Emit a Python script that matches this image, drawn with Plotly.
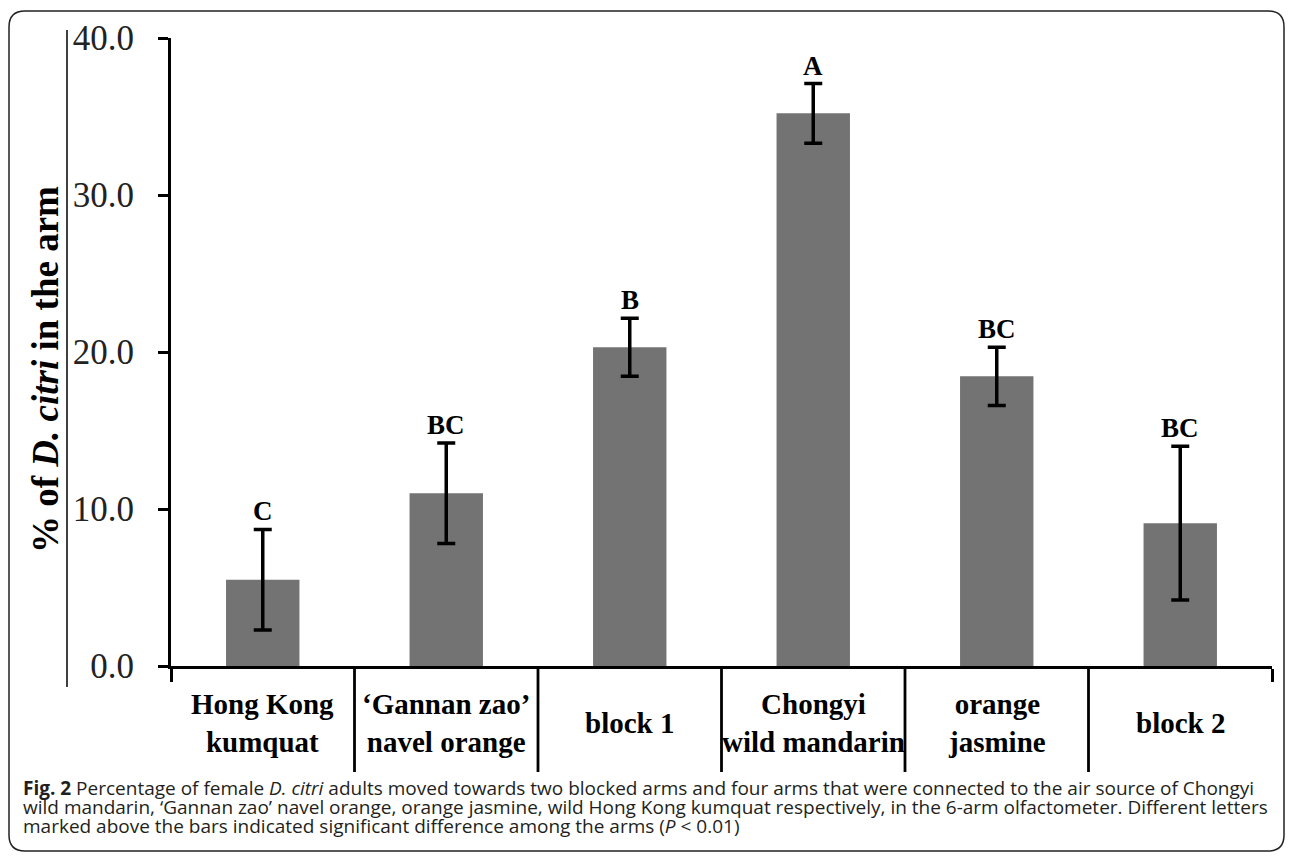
import plotly.graph_objects as go

# ---- data ----
categories = ["Hong Kong<br>kumquat", "\u2018Gannan zao\u2019<br>navel orange", "block 1",
              "Chongyi<br>wild mandarin", "orange<br>jasmine", "block 2"]
values = [5.5, 11.0, 20.3, 35.2, 18.45, 9.1]
errors = [3.2, 3.2, 1.85, 1.9, 1.85, 4.9]
letters = ["C", "BC", "B", "A", "BC", "BC"]
y_ticks = [0, 10, 20, 30, 40]
caption_lines = [
    "<b>Fig. 2</b> Percentage of female <i>D. citri</i> adults moved towards two blocked arms and four arms that were connected to the air source of Chongyi",
    "wild mandarin, \u2018Gannan zao\u2019 navel orange, orange jasmine, wild Hong Kong kumquat respectively, in the 6-arm olfactometer. Different letters",
    "marked above the bars indicated significant difference among the arms (<i>P</i> &lt; 0.01)",
]

OFF = 8                      # page body margin of the html
W, H = 1293 - 2 * OFF, 860 - 2 * OFF
L, R, T, B = 171, 1272, 38, 666  # plot area in page pixels

def px(x):
    return (x - L) / (R - L)

def py(y):
    return (B - y) / (B - T)

SERIF = "Liberation Serif, Times New Roman, serif"
idx = list(range(len(categories)))

fig = go.Figure()
fig.add_trace(go.Bar(
    x=idx, y=values, width=0.4,
    marker=dict(color="#737373", line=dict(width=0)),
    error_y=dict(type="data", array=errors, visible=True, color="black",
                 thickness=3.5, width=9),
    hoverinfo="skip",
))

shapes = []
for b in [i + 0.5 for i in idx[:-1]]:
    shapes.append(dict(type="line", xref="x", yref="paper", x0=b, x1=b,
                       y0=0, y1=py(772), line=dict(color="black", width=2.8)))
shapes.append(dict(type="line", xref="paper", yref="paper", x0=px(67), x1=px(67),
                   y0=py(30), y1=py(687), line=dict(color="black", width=1.5)))
x0, x1, y0, y1 = px(9), px(1284), py(851), py(11)
rx, ry = 16 / (R - L), 16 / (B - T)
path = (f"M {x0+rx},{y1} L {x1-rx},{y1} Q {x1},{y1} {x1},{y1-ry} "
        f"L {x1},{y0+ry} Q {x1},{y0} {x1-rx},{y0} L {x0+rx},{y0} "
        f"Q {x0},{y0} {x0},{y0+ry} L {x0},{y1-ry} Q {x0},{y1} {x0+rx},{y1} Z")
shapes.append(dict(type="path", xref="paper", yref="paper", path=path,
                   line=dict(color="#222", width=1.5)))

annotations = []
for i, (v, e, t) in enumerate(zip(values, errors, letters)):
    annotations.append(dict(x=i, y=v + e, xref="x", yref="y", text=f"<b>{t}</b>",
                            showarrow=False, yanchor="bottom", yshift=1,
                            font=dict(family=SERIF, size=27, color="black")))
for i, c in enumerate(categories):
    annotations.append(dict(x=i, y=py(723), xref="x", yref="paper", text=f"<b>{c}</b>",
                            showarrow=False, yanchor="middle", xanchor="center",
                            font=dict(family=SERIF, size=29, color="black")))
annotations.append(dict(x=px(45), y=py(370), xref="paper", yref="paper",
                        text="<b>% of <i>D. citri</i> in the arm</b>", textangle=-90,
                        showarrow=False, xanchor="center", yanchor="middle",
                        font=dict(family=SERIF, size=37, color="black")))
for line, ypix in zip(caption_lines, [788, 807, 826]):
    annotations.append(dict(x=px(21), y=py(ypix), xref="paper", yref="paper", text=line,
                            showarrow=False, xanchor="left", yanchor="middle",
                            font=dict(family="Open Sans, sans-serif", size=19, color="#231f20")))

fig.update_layout(
    width=W, height=H,
    margin=dict(l=L - OFF, r=W - (R - OFF), t=T - OFF, b=H - (B - OFF), pad=0),
    paper_bgcolor="white", plot_bgcolor="white",
    showlegend=False,
    shapes=shapes, annotations=annotations,
    xaxis=dict(range=[-0.5, 5.5], showgrid=False, zeroline=False, showline=True,
               linecolor="black", linewidth=3, tickmode="array", tickvals=[-0.5, 5.5],
               ticks="outside", ticklen=13, tickwidth=3, tickcolor="black",
               showticklabels=False, fixedrange=True),
    yaxis=dict(range=[0, 40], tickvals=y_ticks, tickformat=".1f", showgrid=False,
               zeroline=False, showline=True, linecolor="black", linewidth=3,
               ticks="outside", ticklen=10, tickwidth=3, tickcolor="black",
               ticklabelstandoff=17,
               tickfont=dict(family=SERIF, size=35, color="#222"), fixedrange=True),
)

fig.write_html("out.html")
